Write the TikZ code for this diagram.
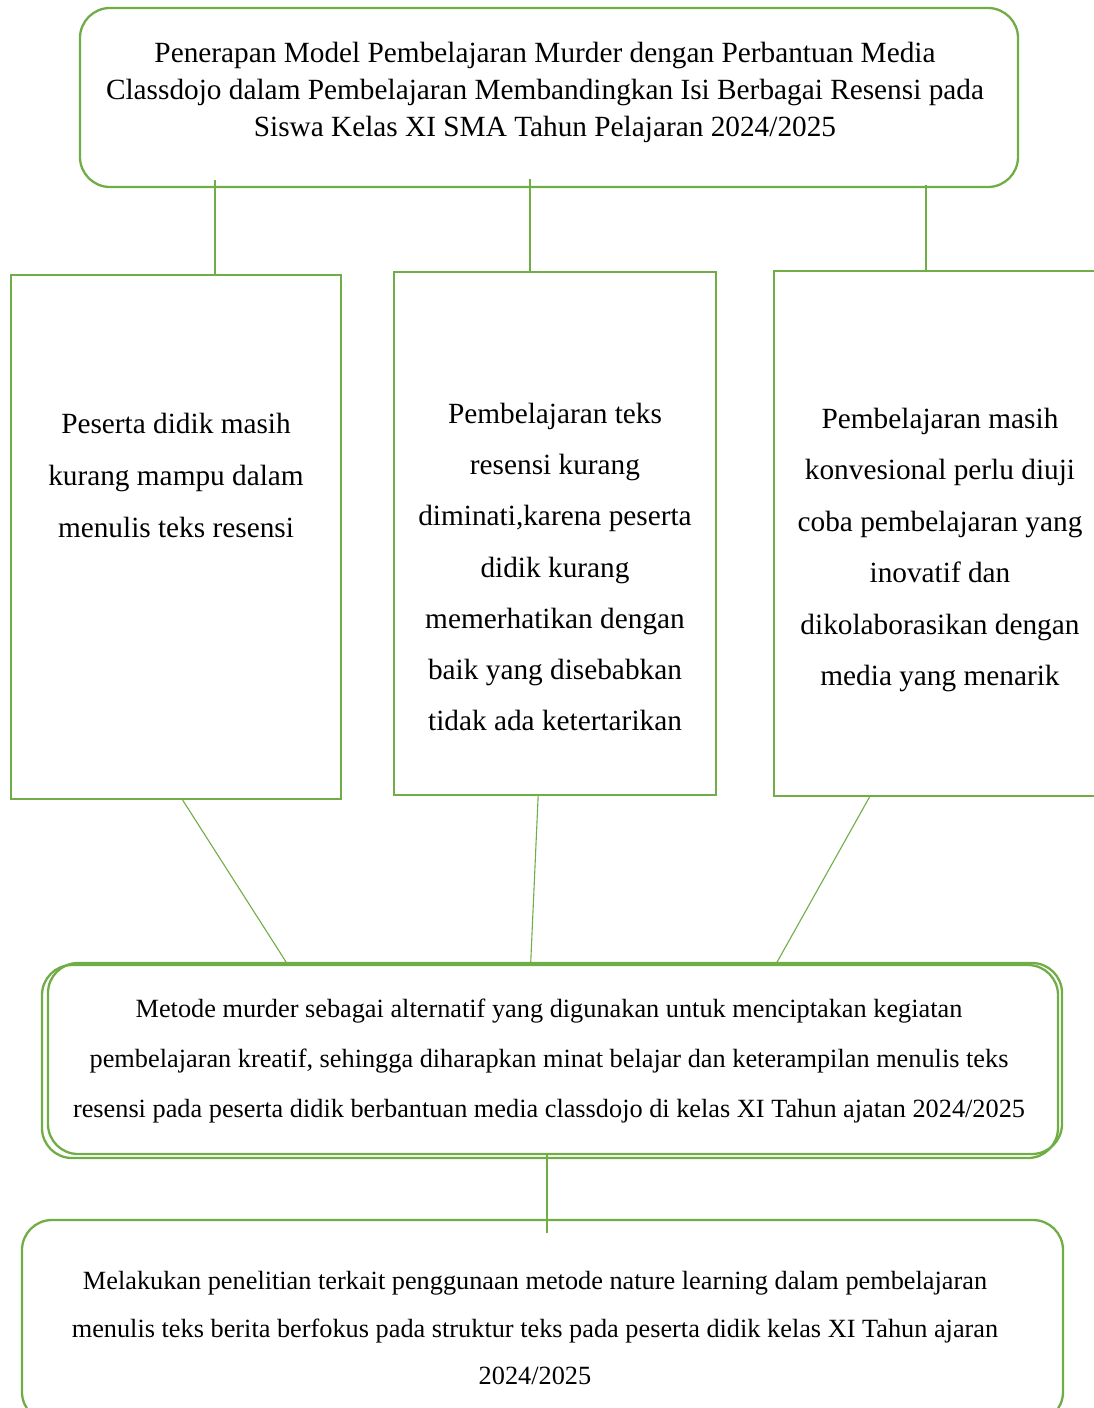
\documentclass[tikz,border=0pt]{standalone}
\usepackage{fontspec}
\setmainfont{Liberation Serif}
\usetikzlibrary{calc}
\definecolor{grn}{HTML}{70AD47}
\begin{document}
\begin{tikzpicture}[x=1pt,y=-1pt,
  rbox/.style={draw=grn,line width=2.3pt,rounded corners=30pt,inner sep=0pt},
  sbox/.style={draw=grn,line width=2.1pt,inner sep=0pt},
  thickline/.style={draw=grn,line width=2.8pt},
  thinline/.style={draw=grn,line width=1.1pt},
  txt/.style={align=center,inner sep=0pt}]
\useasboundingbox (0,0) rectangle (1094,1408);
% top box
\node[rbox,minimum width=938pt,minimum height=179pt] (top) at (549,97.5) {};
\node[txt,font=\fontsize{29.3}{37}\selectfont] (ttop) at (545,92)
 {Penerapan Model Pembelajaran Murder dengan Perbantuan Media\\
  Classdojo dalam Pembelajaran Membandingkan Isi Berbagai Resensi pada\\
  Siswa Kelas XI SMA Tahun Pelajaran 2024/2025};
% three boxes
\node[sbox,minimum width=330pt,minimum height=524pt] (b1) at (176,537) {};
\node[sbox,minimum width=322pt,minimum height=523pt] (b2) at (555,533.5) {};
\node[sbox,minimum width=340pt,minimum height=525pt,anchor=north west] (b3) at (773,270) {};
\node[txt,font=\fontsize{29.3}{52}\selectfont] (t1) at (176,475)
 {Peserta didik masih\\kurang mampu dalam\\menulis teks resensi};
\node[txt,font=\fontsize{29.3}{51.3}\selectfont] (t2) at (555,567)
 {Pembelajaran teks\\resensi kurang\\diminati,karena peserta\\didik kurang\\memerhatikan dengan\\baik yang disebabkan\\tidak ada ketertarikan};
\node[txt,font=\fontsize{29.3}{51.5}\selectfont] (t3) at (940,550)
 {Pembelajaran masih\\konvesional perlu diuji\\coba pembelajaran yang\\inovatif dan\\dikolaborasikan dengan\\media yang menarik};
% fourth box (double outline)
\node[rbox,minimum width=1016pt,minimum height=193pt] (b4) at (550,1061.5) {};
\node[rbox,minimum width=1014pt,minimum height=191pt] (b4b) at (555,1058.5) {};
\node[txt,font=\fontsize{26.3}{50}\selectfont] (t4) at (549,1061)
 {Metode murder sebagai alternatif yang digunakan untuk menciptakan kegiatan\\
  pembelajaran kreatif, sehingga diharapkan minat belajar dan keterampilan menulis teks\\
  resensi pada peserta didik berbantuan media classdojo di kelas XI Tahun ajatan 2024/2025};
% fifth box
\node[rbox,minimum width=1041pt,minimum height=202pt] (b5) at (542.5,1321) {};
\node[txt,font=\fontsize{26.3}{47.5}\selectfont] (t5) at (535,1328)
 {Melakukan penelitian terkait penggunaan metode nature learning dalam pembelajaran\\
  menulis teks berita berfokus pada struktur teks pada peserta didik kelas XI Tahun ajaran\\
  2024/2025};
% connectors
\coordinate (c1) at (215,180);
\coordinate (c2) at (530,179);
\coordinate (c3) at (926,185);
\draw[thickline] (c1) -- (c1 |- b1.north);
\draw[thinline] (c2) -- (c2 |- b2.north);
\draw[thickline] (c3) -- (c3 |- b3.north);
\draw[thinline] ($(b1.south west)!0.52!(b1.south east)$) -- ($(b4.north west)!0.242!(b4.north east)$);
\draw[thinline] ($(b2.south west)!0.448!(b2.south east)$) -- ($(b4.north west)!0.481!(b4.north east)$);
\draw[thinline] ($(b3.south west)!0.282!(b3.south east)$) -- ($(b4.north west)!0.722!(b4.north east)$);
\coordinate (c5) at (547,1233);
\draw[thinline] (c5 |- b4b.south) -- (c5);
\end{tikzpicture}
\end{document}
